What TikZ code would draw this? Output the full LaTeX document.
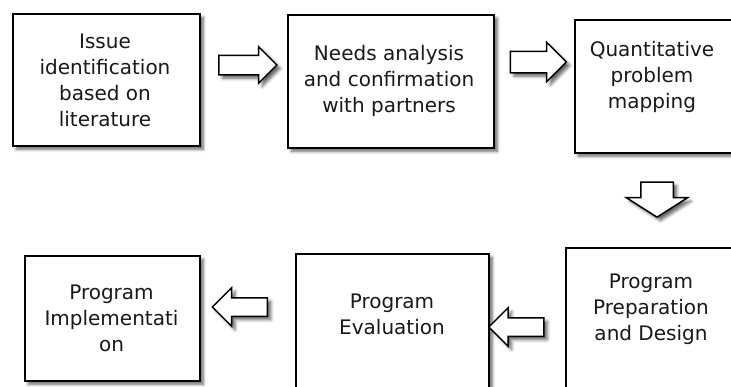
\documentclass[tikz,border=0pt]{standalone}
\usepackage{fontspec}
\setmainfont{DejaVu Sans}
\usetikzlibrary{shapes.arrows, shadows.blur}

\begin{document}
\begin{tikzpicture}[
        x=1bp, y=-1bp,
        soft/.style={blur shadow={shadow xshift=3.5bp, shadow yshift=-3.5bp,
            shadow blur radius=3bp, shadow opacity=60}},
        frame/.style={rectangle, draw, line width=1.5bp, fill=white,
            anchor=north west, soft},
        steptext/.style={align=center, inner sep=0pt, text=black!90,
            font=\fontsize{20bp}{26bp}\selectfont},
        blockarrow/.style={single arrow, draw, line width=1.5bp, fill=white,
            inner xsep=0pt, soft}
    ]

    \useasboundingbox (0,0) rectangle (731,386);

    % boxes
    \node[frame, minimum width=187bp, minimum height=132bp] (issue) at (12,13) {};
    \node[frame, minimum width=206bp, minimum height=133bp] (needs) at (287,14) {};
    \node[frame, minimum width=162bp, minimum height=133bp] (mapping) at (574,19) {};
    \node[frame, minimum width=200bp, minimum height=200bp] (design) at (565,247) {};
    \node[frame, minimum width=193bp, minimum height=150bp] (evaluation) at (295,253) {};
    \node[frame, minimum width=175bp, minimum height=125bp] (implement) at (24,255) {};

    % texts
    \node[steptext] (issue-t) at (105,80) {Issue\\identification\\based on\\literature};
    \node[steptext] (needs-t) at (389,81) {Needs analysis\\and confirmation\\with partners};
    \node[steptext] (mapping-t) at (652,77) {Quantitative\\problem\\mapping};
    \node[steptext] (design-t) at (651,309) {Program\\Preparation\\and Design};
    \node[steptext] (evaluation-t) at (392,314) {Program\\Evaluation};
    \node[steptext] (implement-t) at (111.5,318) {Program\\Implementati\\on};

    % block arrows
    \node[blockarrow, inner ysep=9bp, single arrow head extend=8.5bp,
        minimum height=58bp] (issue-needs) at (243,65) {};
    \node[blockarrow, inner ysep=10bp, single arrow head extend=9bp,
        minimum height=56bp] (needs-mapping) at (533,62) {};
    \node[blockarrow, inner xsep=15.5bp, inner ysep=0pt, single arrow head extend=14.5bp,
        single arrow tip angle=115, shape border rotate=270,
        minimum height=35bp] (mapping-design) at (657,194.5) {};
    \node[blockarrow, inner ysep=8.5bp, single arrow head extend=10bp,
        shape border rotate=180, minimum height=55bp] (design-evaluation) at (521,327) {};
    \node[blockarrow, inner ysep=8.5bp, single arrow head extend=10bp,
        shape border rotate=180, minimum height=55bp] (evaluation-implement) at (244.5,307) {};
\end{tikzpicture}
\end{document}
